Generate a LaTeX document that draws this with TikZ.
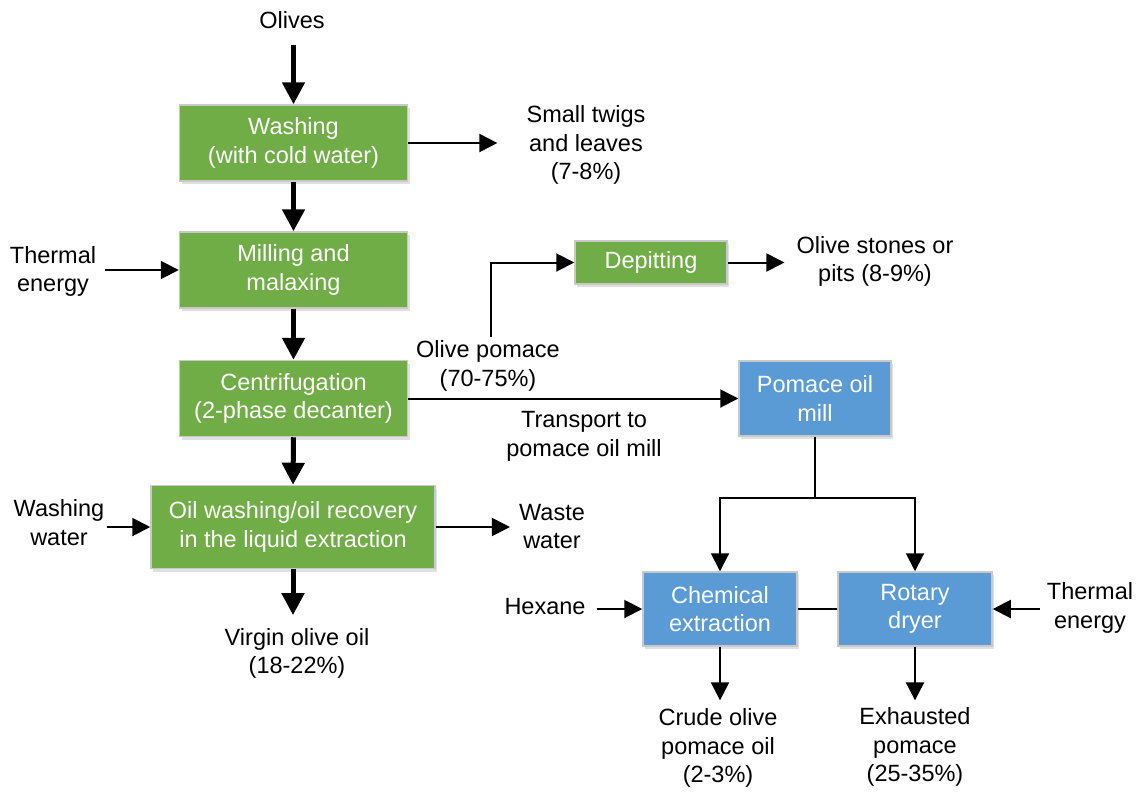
\documentclass[tikz,border=0pt]{standalone}
\usepackage{fontspec}
\setmainfont{Liberation Sans}
\usetikzlibrary{arrows.meta,shadows,calc}
\definecolor{boxgreen}{HTML}{70AD47}
\definecolor{boxblue}{HTML}{5B9BD5}
\definecolor{boxedge}{HTML}{C9C9C9}
\tikzset{
  base/.style={font=\fontsize{23.5pt}{28.5pt}\selectfont, align=center},
  lbl/.style={base, inner sep=0pt},
  procbox/.style={base, text=white, draw=boxedge, line width=1.5pt, inner sep=2pt,
    drop shadow={shadow xshift=2pt, shadow yshift=-3pt, opacity=0.12, fill=black}},
  gbox/.style={procbox, fill=boxgreen},
  bbox/.style={procbox, fill=boxblue},
  thickarrow/.style={line width=5pt, -{Triangle[length=22pt,width=22pt]}},
  thinarrow/.style={line width=2pt, -{Triangle[length=18pt,width=18pt]}},
  plainline/.style={line width=2pt}
}
\begin{document}
\begin{tikzpicture}[x=1pt,y=-1pt]
\useasboundingbox (0,0) rectangle (1142,793);

% process boxes
\node[gbox, minimum width=228pt, minimum height=76pt] (wash) at (293.5,143) {Washing\\(with cold water)};
\node[gbox, minimum width=228pt, minimum height=76pt] (mill) at (293.5,270) {Milling and\\malaxing};
\node[gbox, minimum width=228pt, minimum height=76pt] (cent) at (293.5,398.5) {Centrifugation\\(2-phase decanter)};
\node[gbox, minimum width=284pt, minimum height=83pt] (oil) at (293,527) {Oil washing/oil recovery\\in the liquid extraction};
\node[gbox, minimum width=152pt, minimum height=43pt] (depit) at (651,262.5) {Depitting};
\node[bbox, minimum width=152pt, minimum height=75pt] (pmill) at (815,398.5) {Pomace oil\\mill};
\node[bbox, minimum width=154pt, minimum height=74pt] (chem) at (720,609) {Chemical\\extraction};
\node[bbox, minimum width=154pt, minimum height=74pt] (rot) at (915,609) {Rotary\\dryer};

% labels
\node[lbl] (olives) at (292,20) {Olives};
\node[lbl] (twigs) at (586,145) {Small twigs\\and leaves\\(7-8\%)};
\node[lbl] (therm1) at (53,271.5) {Thermal\\energy};
\node[lbl] (stones) at (875,261.5) {Olive stones or\\pits (8-9\%)};
\node[lbl] (pomlab) at (488,366) {Olive pomace\\(70-75\%)};
\node[lbl] (transport) at (584,436.5) {Transport to\\pomace oil mill};
\node[lbl] (wwater) at (59,522.5) {Washing\\water};
\node[lbl] (waste) at (552,526.5) {Waste\\water};
\node[lbl] (virgin) at (297,653.5) {Virgin olive oil\\(18-22\%)};
\node[lbl] (hexane) at (545,607) {Hexane};
\node[lbl] (therm2) at (1090,608) {Thermal\\energy};
\node[lbl] (crude) at (718,748) {Crude olive\\pomace oil\\(2-3\%)};
\node[lbl] (exh) at (915,747) {Exhausted\\pomace\\(25-35\%)};

\coordinate (br) at (491,337);
\coordinate (split) at (815,498);

% main flow (thick)
\draw[thickarrow, shorten <=16pt] (olives.south -| wash.north) -- (wash.north);
\draw[thickarrow] (wash.south) -- (mill.north);
\draw[thickarrow] (mill.south) -- (cent.north);
\draw[thickarrow] (cent.south) -- (oil.north);
\draw[thickarrow, shorten >=13pt] (oil.south) -- (oil.south |- virgin.north);

% side flows (thin)
\draw[thinarrow, shorten >=29pt] (wash.east) -- (wash.east -| twigs.west);
\draw[thinarrow, shorten <=9pt] (therm1.east |- mill.west) -- (mill.west);
\draw[thinarrow, shorten <=3pt] (wwater.east |- oil.west) -- (oil.west);
\draw[thinarrow, shorten >=9pt] (oil.east) -- (oil.east -| waste.west);
\draw[thinarrow, shorten >=12pt] (depit.east) -- (depit.east -| stones.west);
\draw[thinarrow] (br) |- (depit.west);
\draw[thinarrow] (cent.east) -- (pmill.west);
\draw[plainline] (pmill.south) -- (split);
\draw[thinarrow] (split) -| (chem.north);
\draw[thinarrow] (split) -| (rot.north);
\draw[plainline] (chem.east) -- (rot.west);
\draw[thinarrow, shorten <=11pt] (hexane.east |- chem.west) -- (chem.west);
\draw[thinarrow, shorten <=7pt] (therm2.west |- rot.east) -- (rot.east);
\draw[thinarrow, shorten >=8pt] (chem.south) -- (chem.south |- crude.north);
\draw[thinarrow, shorten >=7pt] (rot.south) -- (rot.south |- exh.north);
\end{tikzpicture}
\end{document}
